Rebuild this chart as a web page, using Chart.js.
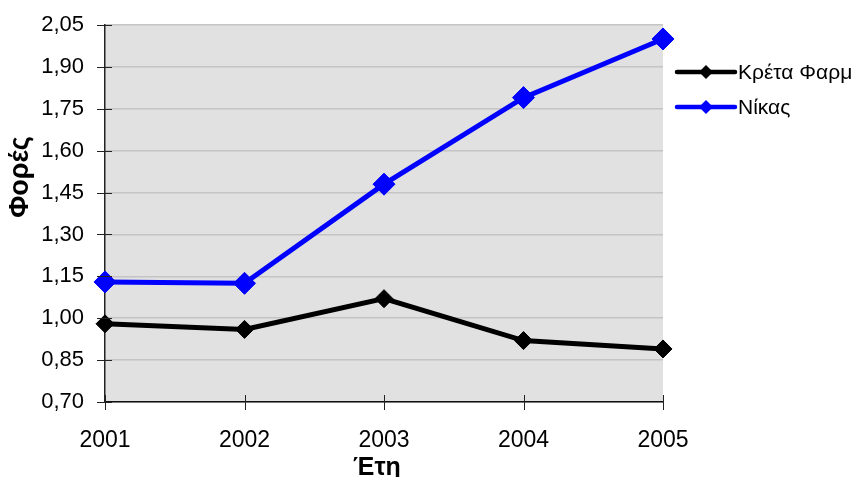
<!DOCTYPE html>
<html>
<head>
<meta charset="utf-8">
<script src="https://cdn.jsdelivr.net/npm/chart.js@4/dist/chart.umd.min.js"></script>
<style>
  html, body { margin: 0; padding: 0; background: #ffffff; }
  #wrap { width: 855px; height: 477px; }
</style>
</head>
<body>
<div id="wrap"><canvas id="c" width="855" height="477"></canvas></div>
<script>
// Years on the horizontal axis
const years = ['2001', '2002', '2003', '2004', '2005'];
// Series values
const kretaFarm = [0.98, 0.96, 1.07, 0.92, 0.89];
const nikas = [1.13, 1.125, 1.48, 1.79, 2.00];
// Value-axis range and step
const yMin = 0.70;
const yMax = 2.05;
const yStep = 0.15;

const fontFamily = '"Liberation Sans", Arial, sans-serif';

// Grey plot-area fill
const plotBackground = {
  id: 'plotBackground',
  beforeDraw(chart) {
    const { ctx, chartArea: a } = chart;
    ctx.save();
    ctx.fillStyle = '#e1e1e1';
    ctx.fillRect(a.left, a.top, a.right - a.left, a.bottom - a.top);
    ctx.restore();
  }
};

// Tick marks that cross the axis lines, plus both axis titles
const axisDecor = {
  id: 'axisDecor',
  afterDraw(chart) {
    const { ctx, chartArea: a, scales } = chart;
    ctx.save();
    ctx.strokeStyle = '#222';
    ctx.lineWidth = 1;
    scales.y.ticks.forEach((t, i) => {
      const y = Math.round(scales.y.getPixelForTick(i)) + 0.5;
      ctx.beginPath(); ctx.moveTo(a.left - 8, y); ctx.lineTo(a.left + 7, y); ctx.stroke();
    });
    scales.x.ticks.forEach((t, i) => {
      const x = Math.round(scales.x.getPixelForTick(i)) + 0.5;
      ctx.beginPath(); ctx.moveTo(x, a.bottom - 7); ctx.lineTo(x, a.bottom + 8); ctx.stroke();
    });
    ctx.fillStyle = '#000';
    ctx.textAlign = 'center';
    ctx.textBaseline = 'middle';
    ctx.font = 'bold 25px ' + fontFamily;
    ctx.fillText('Έτη', (a.left + a.right) / 2 - 7, 468);
    ctx.translate(21, 177);
    ctx.rotate(-Math.PI / 2);
    ctx.font = 'bold 27px ' + fontFamily;
    ctx.fillText('Φορές', 0, 0);
    ctx.restore();
  }
};

// Legend at the right of the plot: line, diamond marker and label per series
const sideLegend = {
  id: 'sideLegend',
  afterDraw(chart) {
    const { ctx, chartArea: a } = chart;
    ctx.save();
    chart.data.datasets.forEach((ds, i) => {
      const y = 72 + i * 35;
      const x0 = a.right + 14;
      const x1 = x0 + 58;
      const xm = (x0 + x1) / 2;
      ctx.strokeStyle = ds.borderColor;
      ctx.lineWidth = 4.5;
      ctx.lineCap = 'round';
      ctx.beginPath(); ctx.moveTo(x0, y); ctx.lineTo(x1, y); ctx.stroke();
      ctx.fillStyle = ds.pointBackgroundColor;
      ctx.beginPath();
      ctx.moveTo(xm, y - 7); ctx.lineTo(xm + 7, y); ctx.lineTo(xm, y + 7); ctx.lineTo(xm - 7, y);
      ctx.closePath(); ctx.fill();
      ctx.fillStyle = '#000';
      ctx.font = '21px ' + fontFamily;
      ctx.textAlign = 'left';
      ctx.textBaseline = 'middle';
      ctx.fillText(ds.label, x1 + 3, y + 1);
    });
    ctx.restore();
  }
};

new Chart(document.getElementById('c'), {
  type: 'line',
  data: {
    labels: years,
    datasets: [
      {
        label: 'Κρέτα Φαρμ',
        data: kretaFarm,
        borderColor: '#000000',
        backgroundColor: '#000000',
        pointBackgroundColor: '#000000',
        pointBorderColor: '#000000',
        borderWidth: 5,
        pointStyle: 'rectRot',
        pointRadius: 9,
        pointBorderWidth: 1,
        tension: 0
      },
      {
        label: 'Νίκας',
        data: nikas,
        borderColor: '#0000ff',
        backgroundColor: '#0000ff',
        pointBackgroundColor: '#0000ff',
        pointBorderColor: '#0000ff',
        borderWidth: 5,
        pointStyle: 'rectRot',
        pointRadius: 11,
        pointBorderWidth: 1,
        tension: 0
      }
    ]
  },
  options: {
    responsive: false,
    animation: false,
    devicePixelRatio: 1,
    layout: { padding: { top: 25, right: 192, left: 0, bottom: 0 } },
    plugins: {
      legend: { display: false },
      tooltip: { enabled: false }
    },
    scales: {
      x: {
        offset: false,
        afterFit(s) { s.height = 75; s.paddingLeft = 0; s.paddingRight = 0; },
        grid: { display: false, drawTicks: false },
        border: { display: true, color: '#111', width: 1.5 },
        ticks: {
          color: '#000',
          padding: 25,
          maxRotation: 0,
          font: { family: fontFamily, size: 23 }
        }
      },
      y: {
        min: yMin,
        max: yMax,
        afterFit(s) { s.width = 105; s.paddingTop = 0; s.paddingBottom = 0; },
        afterBuildTicks(s) {
          const t = [];
          for (let i = 0; i <= Math.round((yMax - yMin) / yStep); i++) {
            t.push({ value: +(yMin + i * yStep).toFixed(2) });
          }
          s.ticks = t;
        },
        grid: { color: '#c4c4c4', lineWidth: 1.5, drawTicks: false },
        border: { display: true, color: '#222', width: 1.5 },
        ticks: {
          color: '#000',
          padding: 21,
          font: { family: fontFamily, size: 22 },
          callback: (v) => v.toFixed(2).replace('.', ',')
        }
      }
    }
  },
  plugins: [plotBackground, axisDecor, sideLegend]
});
</script>
</body>
</html>
